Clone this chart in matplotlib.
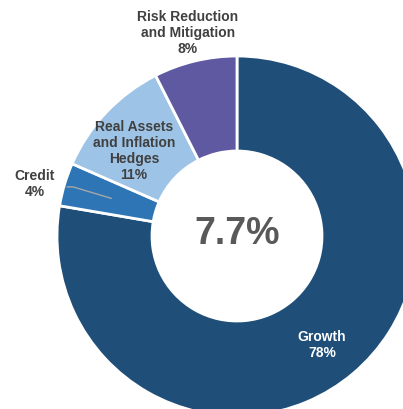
"""Donut chart of asset class allocation with the expected return in the centre."""
import numpy as np
import matplotlib.pyplot as plt

plt.rcParams["font.family"] = ["Liberation Sans", "DejaVu Sans"]

# Asset classes, clockwise from 12 o'clock.
CLASSES = ["Growth", "Credit", "Real Assets\nand Inflation\nHedges", "Risk Reduction\nand Mitigation"]
SHARES = [78.0, 3.9, 11.0, 7.5]          # wedge sizes
LABEL_PCT = ["78%", "4%", "11%", "8%"]   # printed percentages
COLORS = ["#1F4E79", "#2E75B6", "#9DC3E6", "#5F59A2"]
CENTER_TEXT = "7.7%"

W, H = 403, 409
CX, CY = 237, 236          # donut centre in pixels (from top-left)
R_OUT, R_IN = 180, 85


def main():
    fig = plt.figure(figsize=(W / 100, H / 100), dpi=100)
    ax = fig.add_axes([0, 0, 1, 1])

    wedges, _ = ax.pie(
        SHARES, colors=COLORS, radius=R_OUT, startangle=90, counterclock=False,
        wedgeprops=dict(width=R_OUT - R_IN, edgecolor="white", linewidth=2),
    )
    # pie() resets the limits, so set the pixel-like frame afterwards
    ax.set_xlim(-CX, W - CX)
    ax.set_ylim(-(H - CY), CY)
    ax.set_aspect("equal")
    ax.axis("off")

    # small leader line inside the Credit wedge
    w = wedges[1]
    mid = np.deg2rad((w.theta1 + w.theta2) / 2)
    r0, r1 = 0.73 * R_OUT, 0.95 * R_OUT
    xs = [r0 * np.cos(mid), r1 * np.cos(mid), r1 * np.cos(mid) - 6]
    ys = [r0 * np.sin(mid), r1 * np.sin(mid), r1 * np.sin(mid)]
    ax.plot(xs, ys, color="#A6A6A6", lw=1)

    label_pos = [(85, -109), (-202, 52), (-103, 85), (-49, 203)]
    for name, pct, (x, y), i in zip(CLASSES, LABEL_PCT, label_pos, range(4)):
        color = "white" if i == 0 else "#404040"
        ax.text(x, y, f"{name}\n{pct}", ha="center", va="center", fontsize=10,
                fontweight="bold", color=color, linespacing=1.2)

    ax.text(0, 2, CENTER_TEXT, ha="center", va="center", fontsize=27,
            fontweight="bold", color="#595959")

    fig.savefig("out.png", dpi=100)


if __name__ == "__main__":
    main()
